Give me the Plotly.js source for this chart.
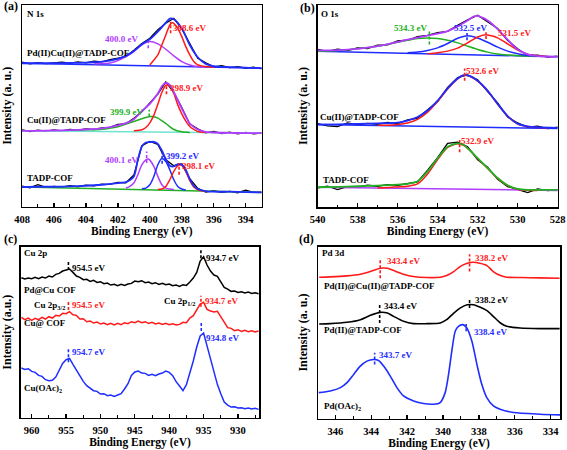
<!DOCTYPE html>
<html>
<head>
<meta charset="utf-8">
<script src="https://cdn.plot.ly/plotly-3.0.1.min.js"></script>
<style>html,body{margin:0;padding:0;background:#fff}#chart{width:567px;height:450px}</style>
</head>
<body>
<div id="chart"></div>
<script>
// ---------- Panel (a): N 1s ----------
const aRawE = [408,407.5,407,406.5,406,405.5,405,404.5,404,403.5,403,402.5,402,401.5,401,400.5,400,399.5,399,398.5,398,397.5,397,396.5,396,395.5,395,394.5,394,393.5,393];
const aTopRaw = [434,429,433,430,432,434,431,435,432,437,435,442,446,451,470,490,506,532,551,566,534,488,446,432,420,424,418,421,416,419,415];
const aMidRaw = [231,226,230,227,231,228,232,230,234,232,237,238,247,249,266,285,312,338,375,343,298,248,234,222,226,220,224,219,223,219,222];
const aBotRaw = [62,57,66,58,61,59,63,60,65,63,68,67,73,72,95,183,196,187,141,123,128,84,55,44,48,43,46,42,50,43,44];
const aBaseE = [408,393];

const aTopFitE = [408,407,406,405,404.5,404,403.5,403,402.5,402,401.5,401,400.5,400,399.5,399,398.75,398.5,398,397.5,397,396.5,396,395,394,393];
const aTopFit = [431,431,431,432,432,433,434,436,439,444,453,468,488,503,526,553,565,563,536,486,449,429,422,419,418,416];
const aTopPurE = [403.5,403,402.5,402,401.5,401,400.5,400,399.5,399,398.5,398,397.5,397,396.5];
const aTopPur = [429,430,432,439,451,466,486,496,489,473,453,436,426,421,419];
const aTopRedE = [400,399.5,399.25,399,398.75,398.6,398.5,398.25,398,397.75,397.5,397.25,397,396.5,396];
const aTopRed = [426,456,486,516,546,553,551,536,511,481,456,436,426,421,419];
const aTopBase = [431,416];

const aMidFitE = [408,407,406,405,404,403,402.5,402,401.5,401,400.5,400,399.5,399.25,399,398.75,398.5,398,397.5,397,396.5,396,395,394,393];
const aMidFit = [228,228,229,230,232,235,239,244,251,263,287,309,340,362,372,366,345,295,250,232,225,223,222,221,221];
const aMidGrnE = [405,404,403,402.5,402,401.5,401,400.5,400,399.75,399.5,399,398.5,398,397.5];
const aMidGrn = [230,231,233,236,240,248,256,264,271,270,266,250,232,225,223];
const aMidRedE = [401,400.5,400.25,400,399.75,399.5,399.25,399,398.75,398.5,398.25,398,397.75,397.5,397.25,397,396.5];
const aMidRed = [228,231,238,252,275,308,343,365,362,340,306,279,257,241,232,226,223];
const aMidBase = [228,221];

const aBotFitE = [408,407,406,405,404,403,402,401.5,401,400.75,400.5,400.25,400,399.75,399.5,399.25,399,398.75,398.5,398.25,398,397.75,397.5,397.25,397,396.5,396,395,394,393];
const aBotFit = [59,60,60,61,63,66,71,74,91,141,181,193,194,195,189,169,143,123,121,128,126,111,83,63,53,47,45,45,44,43];
const aBotPurE = [401.5,401.25,401,400.75,400.5,400.25,400.1,400,399.75,399.5,399.25,399,398.75,398.5];
const aBotPur = [56,61,71,96,126,141,143,140,121,91,66,56,53,52];
const aBotBluE = [400.5,400.25,400,399.75,399.5,399.25,399,398.75,398.5,398.25,398,397.75];
const aBotBlu = [54,56,66,91,126,145,136,111,81,61,53,50];
const aBotRedE = [399.5,399.25,399,398.75,398.5,398.25,398.1,398,397.75,397.5,397.25,397,396.75,396.5];
const aBotRed = [52,53,61,81,106,123,126,124,106,78,59,51,48,47];
const aBotBase = [59,43];

// ---------- Panel (b): O 1s ----------
const bRawE = [540,539.5,539,538.5,538,537.5,537,536.5,536,535.5,535,534.5,534,533.5,533,532.5,532,531.5,531,530.5,530,529.5,529,528.5,528];
const bTopRaw = [478,472,479,475,483,481,491,492,504,506,517,521,529,533,551,568,582,563,542,505,480,460,461,455,458];
const bMidRaw = [253,246,244,255,249,254,251,257,253,264,270,296,320,363,393,401,386,350,316,273,255,242,245,238,242];
const bBotRaw = [58,63,53,62,60,66,63,68,66,72,76,112,150,193,197,183,143,121,84,62,53,44,55,50,53];
const bBaseE = [540,528];

const bTopFitE = [540,539,538,537,536.5,536,535.5,535,534.5,534,533.5,533,532.5,532.2,532,531.7,531.5,531,530.5,530,529.5,529,528];
const bTopFit = [475,476,480,488,494,501,508,514,520,526,534,548,566,578,580,573,566,540,508,478,463,458,456];
const bTopGrnE = [540,539,538,537,536,535,534.5,534,533.5,533,532.5,532,531.5,531,530.5,530,529];
const bTopGrn = [473,475,480,488,500,511,513,511,506,498,488,478,470,464,461,459,457];
const bTopBluE = [535.5,535,534.5,534,533.5,533,532.5,532,531.5,531,530.5,530,529.5,529];
const bTopBlu = [468,470,475,483,496,512,520,513,500,485,473,465,460,458];
const bTopRedE = [534.5,534,533.5,533,532.5,532,531.6,531.2,531,530.5,530,529.5,529,528.5];
const bTopRed = [465,468,473,482,498,516,523,518,513,495,476,464,459,457];
const bTopBase = [473,456];

const bFitE = [540,539,538,537,536,535.5,535,534.5,534,533.5,533,532.7,532.4,532,531.5,531,530.5,530,529.5,529,528];
const bMidFit = [250,251,252,254,256,262,273,293,323,360,390,400,398,383,353,313,276,253,245,242,240];
const bMidRedE = [537,536.5,536,535.5,535,534.5,534,533.5,533,532.7,532.4,532,531.5,531,530.5,530,529.5,529,528.5];
const bMidRed = [248,248,250,255,266,288,320,358,389,399,397,382,352,312,275,252,244,241,240];
const bMidBase = [250,238];

const bBotFit = [60,61,63,65,68,70,78,108,148,183,193,188,173,148,118,88,66,55,52,52,52];
const bBotRedE = [537,536.5,536,535.5,535,534.5,534,533.5,533,532.7,532.4,532,531.5,531,530.5,530,529.5,529];
const bBotRed = [58,59,61,63,70,100,144,181,192,187,172,147,117,87,65,54,51,50];
const bBotBase = [60,50];

// ---------- Panel (c): Cu 2p ----------
const cE = [961.5,961,960.5,960,959.5,959,958.5,958,957.5,957,956.5,956,955.5,955,954.5,954,953.5,953,952.5,952,951.5,951,950.5,950,949.5,949,948.5,948,947.5,947,946.5,946,945.5,945,944.5,944,943.5,943,942.5,942,941.5,941,940.5,940,939.5,939,938.5,938,937.5,937,936.5,936,935.5,935,934.5,934,933.5,933,932.5,932,931.5,931,930.5,930,929.5,929,928.5,928,927.5,927];
const cPdCu = [420,416,419,417,421,417,422,419,425,422,430,433,440,444,446,436,425,421,414,415,409,412,406,408,402,404,398,400,396,400,397,401,403,410,408,411,405,407,402,405,400,403,399,401,396,398,394,399,397,407,419,436,470,483,458,440,428,424,406,391,386,379,380,376,378,374,377,373,375,372];
const cCu = [301,294,299,292,298,294,301,296,303,299,307,305,313,312,318,309,307,296,297,288,290,284,287,281,284,279,283,278,283,279,285,282,288,285,290,285,288,283,286,281,284,280,283,279,282,278,280,286,285,299,306,325,341,346,325,320,317,319,301,287,270,268,261,264,259,262,258,261,257,260];
const cOAc = [149,145,147,139,136,127,124,114,111,112,122,142,163,174,178,160,143,122,109,96,89,81,79,71,72,66,68,64,68,72,86,102,127,137,140,134,133,127,130,126,131,134,140,136,126,108,95,81,99,133,170,212,245,254,217,173,139,100,72,47,38,32,33,29,30,27,29,26,28,25];

// ---------- Panel (d): Pd 3d ----------
const dE = [346.9,346.3,345.35,344.6,344.05,343.5,343.1,342.75,342.2,341.65,340.9,340.15,339.8,339.4,339.05,338.65,338.3,337.95,337.55,337.2,336.8,336.45,335.7,334.6,333.5];
const dPdCu = [426,427,430,435,443,453,453,446,435,428,425,426,431,443,458,468,471,468,461,443,431,426,425,424,423];
const dPd = [285,286,290,298,311,320,318,308,293,286,286,288,298,318,333,343,343,336,325,308,288,278,273,271,271];
const dOAcE = [346.93,346.28,345.72,345.35,344.98,344.61,344.24,343.87,343.59,343.31,342.94,342.57,342.2,341.64,341.08,340.53,340.16,339.88,339.69,339.51,339.32,339.14,338.89,338.67,338.39,338.11,337.84,337.56,337.19,336.82,336.07,334.59,333.48];
const dOAc = [78,83,93,108,133,158,173,178,175,158,128,93,68,53,45,43,48,78,133,203,263,278,283,273,233,163,103,63,38,28,18,13,11];

// ---------- texts ----------
const xTitle = 'Binding Energy (eV)';
const yTitles = ['Intensity (a. u.)','Intensity (a. u.)','Intensity (a.u.)','Intensity (a. u.)'];
const panelTags = ['(a)','(b)','(c)','(d)'];

const FONT = 'Liberation Serif';
const RED='#ff1a1a', BLUE='#1f2dff', PUR='#b03cff', GRN='#22b022', BLK='#000000', CYA='#6fe3cf';

const traces = [];
function ln(ax, x, y, color, w, spline){
  const s = ax===1 ? '' : String(ax);
  traces.push({type:'scatter', mode:'lines', x:x, y:y, xaxis:'x'+s, yaxis:'y'+s,
    line:{color:color, width:w, shape: spline?'spline':'linear', smoothing:0.7},
    hoverinfo:'skip', showlegend:false});
}
// (a)
ln(1, aRawE, aTopRaw, BLK, 1.3, false);
ln(1, aBaseE, aTopBase, BLUE, 1.5, false);
ln(1, aTopPurE, aTopPur, PUR, 1.5, true);
ln(1, aTopRedE, aTopRed, RED, 1.5, true);
ln(1, aTopFitE, aTopFit, BLUE, 1.8, true);
ln(1, aRawE, aMidRaw, BLK, 1.3, false);
ln(1, aBaseE, aMidBase, CYA, 1.5, false);
ln(1, aMidGrnE, aMidGrn, GRN, 1.5, true);
ln(1, aMidRedE, aMidRed, RED, 1.5, true);
ln(1, aMidFitE, aMidFit, PUR, 1.8, true);
ln(1, aRawE, aBotRaw, BLK, 1.3, false);
ln(1, aBaseE, aBotBase, GRN, 1.5, false);
ln(1, aBotPurE, aBotPur, PUR, 1.5, true);
ln(1, aBotBluE, aBotBlu, BLUE, 1.5, true);
ln(1, aBotRedE, aBotRed, RED, 1.5, true);
ln(1, aBotFitE, aBotFit, BLUE, 1.8, true);
// (b)
ln(2, bRawE, bTopRaw, BLK, 1.3, false);
ln(2, bBaseE, bTopBase, BLUE, 1.5, false);
ln(2, bTopGrnE, bTopGrn, GRN, 1.5, true);
ln(2, bTopBluE, bTopBlu, BLUE, 1.5, true);
ln(2, bTopRedE, bTopRed, RED, 1.5, true);
ln(2, bTopFitE, bTopFit, PUR, 1.8, true);
ln(2, bRawE, bMidRaw, BLK, 1.3, false);
ln(2, bBaseE, bMidBase, BLUE, 1.5, false);
ln(2, bMidRedE, bMidRed, RED, 1.5, true);
ln(2, bFitE, bMidFit, BLUE, 1.8, true);
ln(2, bRawE, bBotRaw, BLK, 1.3, false);
ln(2, bBaseE, bBotBase, PUR, 1.5, false);
ln(2, bBotRedE, bBotRed, RED, 1.5, true);
ln(2, bFitE, bBotFit, GRN, 1.8, true);
// (c)
ln(3, cE, cPdCu, BLK, 1.5, false);
ln(3, cE, cCu, RED, 1.5, false);
ln(3, cE, cOAc, BLUE, 1.5, false);
// (d)
ln(4, dE, dPdCu, RED, 1.6, true);
ln(4, dE, dPd, BLK, 1.6, true);
ln(4, dOAcE, dOAc, BLUE, 1.6, true);

// peak markers: [panel, energy, y0, y1, color]
const peakMarks = [
  [1,400.1,476,496,PUR],[1,398.7,521,556,RED],
  [1,400.04,271,291,GRN],[1,398.96,338,368,RED],
  [1,400.2,131,166,PUR],[1,399.23,129,161,BLUE],[1,398.17,96,131,RED],
  [2,534.41,493,533,GRN],[2,532.53,506,528,BLUE],[2,531.58,510,530,RED],
  [2,532.65,383,420,RED],[2,532.9,166,203,RED],
  [3,954.66,443,470,BLK],[3,935.39,478,506,BLK],
  [3,954.66,323,350,RED],[3,935.39,333,366,RED],
  [3,954.66,166,210,BLUE],[3,935.34,260,286,BLUE],
  [4,343.5,423,483,RED],[4,338.52,443,495,RED],
  [4,343.53,288,345,BLK],[4,338.52,333,361,BLK],
  [4,343.81,163,198,BLUE],[4,338.71,263,285,BLUE]
];
// labels: [panel, text, x, y, color, anchor]
const labels = [
  [1,'N 1s',407.8,579,BLK,'left'],
  [1,'400.0 eV',401.79,503,PUR,'center'],[1,'398.6 eV',397.5,536,RED,'center'],
  [1,'Pd(II)Cu(II)@TADP-COF',407.8,461,BLK,'left'],
  [1,'399.9 eV',401.45,284,GRN,'center'],[1,'398.9 eV',397.7,357,RED,'center'],
  [1,'Cu(II)@TADP-COF',407.8,259,BLK,'left'],
  [1,'400.1 eV',401.75,141,PUR,'center'],[1,'399.2 eV',397.96,153,BLUE,'center'],[1,'398.1 eV',396.94,121,RED,'center'],
  [1,'TADP-COF',407.8,86,BLK,'left'],
  [2,'O 1s',539.95,586,BLK,'left'],
  [2,'534.3 eV',535.35,543,GRN,'center'],[2,'532.5 eV',532.37,543,BLUE,'center'],[2,'531.5 eV',530.15,528,RED,'center'],
  [2,'532.6 eV',531.74,413,RED,'center'],
  [2,'Cu(II)@TADP-COF',539.98,273,BLK,'left'],
  [2,'532.9 eV',532.03,200,RED,'center'],
  [2,'TADP-COF',539.83,83,BLK,'left'],
  [3,'Cu 2p',961.46,493,BLK,'left'],
  [3,'954.5 eV',954.42,450,BLK,'left'],[3,'934.7 eV',935.0,478,BLK,'left'],
  [3,'Pd@Cu COF',961.46,383,BLK,'left'],
  [3,'Cu 2p<sub>3/2</sub>',954.9,338,BLK,'right'],[3,'954.5 eV',954.42,338,RED,'left'],
  [3,'Cu 2p<sub>1/2</sub>',935.97,350,BLK,'right'],[3,'934.7 eV',935.15,350,RED,'left'],
  [3,'Cu@ COF',961.46,283,BLK,'left'],
  [3,'954.7 eV',954.42,198,BLUE,'left'],[3,'934.8 eV',934.9,240,BLUE,'left'],
  [3,'Cu(OAc)<sub>2</sub>',961.46,88,BLK,'left'],
  [4,'Pd 3d',346.87,498,BLK,'left'],
  [4,'343.4 eV',343.22,475,RED,'left'],[4,'338.2 eV',338.34,483,RED,'left'],
  [4,'Pd(II)@Cu(II)@TADP-COF',346.74,400,BLK,'left'],
  [4,'343.4 eV',343.4,338,BLK,'left'],[4,'338.2 eV',338.34,358,BLK,'left'],
  [4,'Pd(II)@TADP-COF',346.74,268,BLK,'left'],
  [4,'343.7 eV',343.68,191,BLUE,'left'],[4,'338.4 eV',338.39,261,BLUE,'left'],
  [4,'Pd(OAc)<sub>2</sub>',346.74,35,BLK,'left']
];

const W=567, H=450;
const boxes = [ // [left, right, top, bottom] in px
  [22,261.7,5,206.7],[317.5,557.7,5,207],[20.7,259.3,246.7,417.7],[318.3,560,246.7,418.5]
];
const xr = [[408,393],[540,528],[961.6,926.9],[346.95,333.48]];
const yr = [[0,606],[0,613],[0,513],[0,518]];
const dt = [2,2,5,2];

const layout = {
  width:W, height:H, margin:{l:0,r:0,t:0,b:0}, paper_bgcolor:'#fff', plot_bgcolor:'#fff',
  font:{family:FONT, color:'#000', size:10, weight:'bold'},
  showlegend:false, shapes:[], annotations:[]
};
for (let i=0;i<4;i++){
  const s = i===0 ? '' : String(i+1);
  const b = boxes[i];
  layout['xaxis'+s] = {
    domain:[b[0]/W, b[1]/W], anchor:'y'+s, range:xr[i], showgrid:false, zeroline:false,
    showline:true, mirror:true, linecolor:'#000', linewidth:1.5,
    ticks:'inside', ticklen:4, tickwidth:1.3, tickcolor:'#000', dtick:dt[i], tick0:0,
    ticklabelstandoff:2,
    minor:{ticks:'inside', ticklen:2.5, tickwidth:1, tickcolor:'#000', dtick:dt[i]/2},
    tickfont:{family:FONT, size:10.5, color:'#000', weight:'bold'},
    title:{text:xTitle, font:{family:FONT, size:11.5, color:'#000', weight:'bold'}, standoff:1}
  };
  layout['yaxis'+s] = {
    domain:[1-b[3]/H, 1-b[2]/H], anchor:'x'+s, range:yr[i], showgrid:false, zeroline:false,
    showline:true, mirror:true, linecolor:'#000', linewidth:1.5, ticks:'', showticklabels:false,
    title:{text:yTitles[i], font:{family:FONT, size:12, color:'#000', weight:'bold'}, standoff:6}
  };
}
peakMarks.forEach(m=>{
  const s = m[0]===1 ? '' : String(m[0]);
  layout.shapes.push({type:'line', xref:'x'+s, yref:'y'+s, x0:m[1], x1:m[1], y0:m[2], y1:m[3],
    line:{color:m[4], width:1.6, dash:'3px,2px'}});
});
labels.forEach(l=>{
  const s = l[0]===1 ? '' : String(l[0]);
  layout.annotations.push({xref:'x'+s, yref:'y'+s, x:l[2], y:l[3], text:l[1], showarrow:false,
    xanchor:l[5], yanchor:'middle', font:{family:FONT, size:9, color:l[4], weight:'bold'}});
});
const tagPos = [[2,6],[298,8],[2,239],[297,239]];
panelTags.forEach((t,i)=>{
  layout.annotations.push({xref:'paper', yref:'paper', x:tagPos[i][0]/W, y:1-tagPos[i][1]/H, text:t,
    showarrow:false, xanchor:'left', yanchor:'middle', font:{family:FONT, size:12, color:'#000', weight:'bold'}});
});

Plotly.newPlot('chart', traces, layout, {staticPlot:true, displayModeBar:false});
</script>
</body>
</html>
